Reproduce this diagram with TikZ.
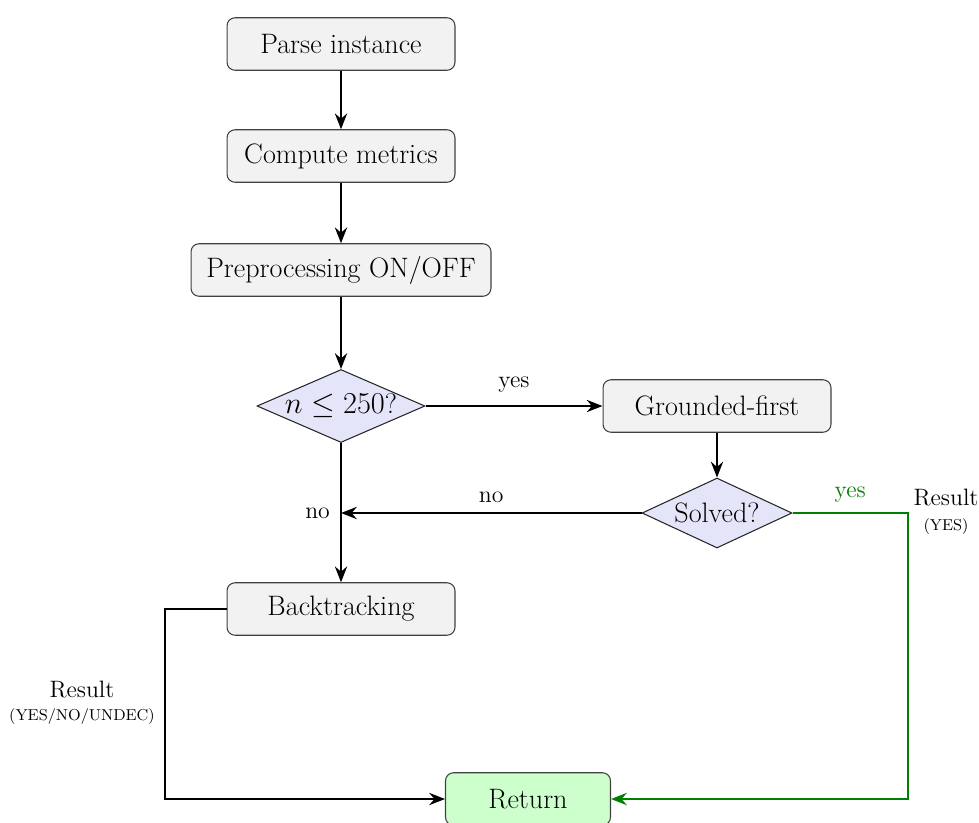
\documentclass[tikz,border=0pt]{standalone}
\usetikzlibrary{shapes.geometric,arrows.meta}

\definecolor{boxfill}{RGB}{242,242,242}
\definecolor{decfill}{RGB}{229,229,250}
\definecolor{retfill}{RGB}{204,255,204}
\definecolor{okgreen}{RGB}{0,128,0}

\tikzset{
  mainfont/.style={font=\fontsize{16}{19}\selectfont},
  lblfont/.style={font=\fontsize{13.5}{16}\selectfont},
  stepbox/.style={mainfont, draw=black!75, line width=0.6pt, fill=boxfill,
    rounded corners=0.16cm, inner sep=0pt, minimum width=4.56cm, minimum height=1.05cm},
  decbox/.style={mainfont, diamond, draw=black!85, line width=0.6pt, fill=decfill,
    inner sep=0pt, shape aspect=2.3},
  retbox/.style={stepbox, fill=retfill, minimum width=3.3cm},
  arr/.style={line width=1.1pt, -{Stealth[length=9pt,width=7pt,inset=3pt]}},
  garr/.style={arr, draw=okgreen},
}

\begin{document}
\begin{tikzpicture}[x=0.02cm, y=-0.02cm]
\useasboundingbox (0,0) rectangle (979,822);

% process steps
\node[stepbox] (parse)   at (341,44)  {Parse instance};
\node[stepbox] (compute) at (341,156) {Compute metrics};
\node[stepbox, minimum width=6cm] (prep) at (341,270) {Preprocessing ON/OFF};
\node[decbox, minimum width=3.36cm, minimum height=1.46cm] (dec) at (341,406) {$n \leq 250$?};
\node[stepbox] (gf)      at (717,406) {Grounded-first};
\node[decbox, minimum width=3.0cm, minimum height=1.4cm] (solved) at (717,513) {Solved?};
\node[stepbox] (bt)      at (341,609) {Backtracking};
\node[retbox]  (ret)     at (528,799) {Return};

% junction and bends
\coordinate (join)  at (dec.south |- solved.west);
\coordinate (lbend) at (165,609);
\coordinate (rbend) at (908,513);

% main flow
\draw[arr] (parse) -- (compute);
\draw[arr] (compute) -- (prep);
\draw[arr] (prep) -- (dec);
\draw[arr] (dec) -- node[lblfont, above=4pt] {yes} (gf);
\draw[arr] (gf) -- (solved);
\draw[arr] (dec) -- (bt);
\draw[arr] (solved.west) -- node[lblfont, above=2pt] {no} (join);
\node[lblfont, anchor=east] (nolbl) at ([xshift=-0.1cm]join) {no};

% results to return
\draw[arr] (bt.west) -- (lbend) |- (ret.west);
\draw[garr] (solved.east) -- node[lblfont, above=2pt, text=okgreen] {yes} (rbend) |- (ret.east);

\node[lblfont] (res1) at (82,690) {Result};
\node[font=\fontsize{9}{11}\selectfont] (res1b) at (82,717) {(YES/NO/UNDEC)};
\node[lblfont] (res2) at (946,498) {Result};
\node[font=\fontsize{9}{11}\selectfont] (res2b) at (946,527) {(YES)};
\end{tikzpicture}
\end{document}
